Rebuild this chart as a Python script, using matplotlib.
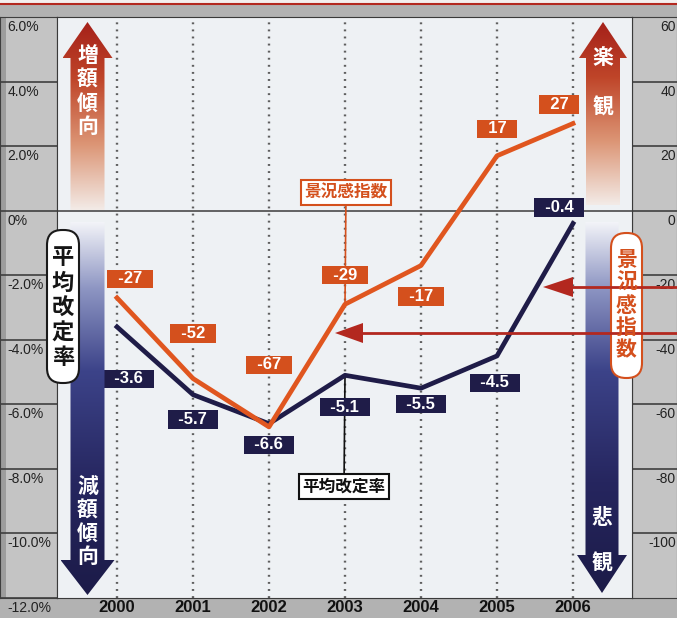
import numpy as np
import matplotlib
matplotlib.use('Agg')
import matplotlib.pyplot as plt
from matplotlib.patches import Polygon, Rectangle, FancyBboxPatch
from matplotlib.colors import LinearSegmentedColormap

plt.rcParams['font.family'] = ['Liberation Sans', 'Noto Sans CJK JP', 'DejaVu Sans']
JP = ['Noto Sans CJK JP', 'DejaVu Sans']

# data
years = [2000, 2001, 2002, 2003, 2004, 2005, 2006]
rate = [-3.6, -5.7, -6.6, -5.1, -5.5, -4.5, -0.4]      # 平均改定率 (%), left axis
di = [-27, -52, -67, -29, -17, 17, 27]                  # 景況感指数, right axis
left_ticks = [6, 4, 2, 0, -2, -4, -6, -8, -10, -12]
left_labels = ['6.0%', '4.0%', '2.0%', '0%', '-2.0%', '-4.0%', '-6.0%', '-8.0%', '-10.0%', '-12.0%']
right_ticks = [60, 40, 20, 0, -20, -40, -60, -80, -100]
right_labels = ['60', '40', '20', '0', '-20', '-40', '-60', '-80', '-100']

# label offsets in pixels (dx, dy)
di_off = [(13, 19), (0, 45), (0, 62), (0, 29), (0, -31), (0, 27), (-14, 19)]
rate_off = [(12, -52), (0, -25), (0, -21), (0, -32), (0, -16), (-2, -27), (-14, 16)]

ORANGE = '#e0561f'
ORANGE_BOX = '#d4501d'
NAVY = '#1f1c48'
RED = '#b3281f'
PANEL = '#c4c4c4'

W, H = 677, 618


def box(x0, y0, x1, y1):
    return [x0 / W, 1 - y1 / H, (x1 - x0) / W, (y1 - y0) / H]


fig = plt.figure(figsize=(W / 100, H / 100), dpi=100)
fig.patch.set_facecolor('#b2b2b2')

# left scale panel
ax_l = fig.add_axes(box(0, 17, 57, 598))
ax_l.set_facecolor(PANEL)
ax_l.set_xlim(0, 1)
ax_l.set_ylim(-12, 6)
ax_l.axvspan(0, 0.11, color='#9d9d9d', lw=0)
for v, lab in zip(left_ticks, left_labels):
    ax_l.axhline(v, color='#3f3f3f', lw=1.2)
    ax_l.text(0.13, v - 0.31, lab, ha='left', va='center', fontsize=10, color='#222', clip_on=False)
ax_l.set_xticks([])
ax_l.set_yticks([])
for s in ax_l.spines.values():
    s.set_color('#3f3f3f')

# right scale panel (labels sit at the right edge)
ax_r = fig.add_axes(box(632, 17, 677, 598))
ax_r.set_facecolor(PANEL)
ax_r.set_xlim(0, 1)
ax_r.set_ylim(-120, 60)
for v, lab in zip(right_ticks, right_labels):
    ax_r.axhline(v, color='#3f3f3f', lw=1.2)
    ax_r.text(0.97, v - 3.1, lab, ha='right', va='center', fontsize=10, color='#222', clip_on=False)
ax_r.set_xticks([])
ax_r.set_yticks([])
for s in ax_r.spines.values():
    s.set_color('#3f3f3f')

# main chart
ax = fig.add_axes(box(57, 17, 632, 598))
ax.set_facecolor('#eef1f4')
ax.set_xlim(2000 - 60 / 76, 2006 + 59 / 76)
ax.set_ylim(-12, 6)
ax.vlines(years, -12, 6, colors='#5f5f5f', linestyles=(0, (0.8, 2.2)), lw=1.7)
ax.axhline(0, color='#4a4a4a', lw=1.2)
ax.plot(years, rate, color=NAVY, lw=3.4, zorder=3)
ax.set_xticks(years)
ax.set_xticklabels([str(y) for y in years], fontsize=12, fontweight='bold', color='#111')
ax.tick_params(axis='x', length=0, pad=1.5)
ax.set_yticks([])
for s in ax.spines.values():
    s.set_color('#3a3a3a')

ax2 = ax.twinx()
ax2.set_ylim(-120, 60)
ax2.set_yticks([])
for s in ax2.spines.values():
    s.set_visible(False)
ax2.plot(years, di, color=ORANGE, lw=3.4, zorder=3)

# value labels
for yr, v, (dx, dy) in zip(years, di, di_off):
    ax2.annotate(f'  {v}  ', xy=(yr, v), xytext=(dx, dy), textcoords='offset pixels',
                 ha='center', va='center', fontsize=12, fontweight='bold', color='white', zorder=6,
                 bbox=dict(boxstyle='square,pad=0.1', fc=ORANGE_BOX, ec='none'))
for yr, v, (dx, dy) in zip(years, rate, rate_off):
    ax.annotate(f'  {v}  ', xy=(yr, v), xytext=(dx, dy), textcoords='offset pixels',
                ha='center', va='center', fontsize=12, fontweight='bold', color='white', zorder=6,
                bbox=dict(boxstyle='square,pad=0.1', fc=NAVY, ec='none'))

# series name callouts at 2003
ax2.annotate('景況感指数', xy=(2003, di[3]), xytext=(1, 112), textcoords='offset pixels',
             ha='center', va='center', fontsize=12, fontweight='bold', color=ORANGE_BOX, family=JP,
             zorder=2.5,
             bbox=dict(boxstyle='square,pad=0.2', fc='white', ec=ORANGE_BOX, lw=1.5),
             arrowprops=dict(arrowstyle='-', color=ORANGE_BOX, lw=1.2, shrinkA=0, shrinkB=0))
ax.annotate('平均改定率', xy=(2003, rate[3]), xytext=(-1, -111), textcoords='offset pixels',
            ha='center', va='center', fontsize=12, fontweight='bold', color='#111', family=JP,
            zorder=2.5,
            bbox=dict(boxstyle='square,pad=0.2', fc='white', ec='#111', lw=1.5),
            arrowprops=dict(arrowstyle='-', color='#111', lw=1.2, shrinkA=0, shrinkB=0))

# overlay for decorations, pixel coordinates
ov = fig.add_axes([0, 0, 1, 1], zorder=10)
ov.axis('off')

ov.add_patch(Rectangle((-5, -10), W + 10, 14, fc='#f4efee', ec=RED, lw=1.5))

up_cmap = LinearSegmentedColormap.from_list(
    'up', [(0, '#a5211a'), (0.3, '#bf4529'), (0.65, '#dc9575'), (1, '#f3ebe7')])
down_cmap = LinearSegmentedColormap.from_list(
    'down', [(0, '#f2f3f8'), (0.18, '#8c94c2'), (0.4, '#3c4389'), (0.7, '#26265f'), (1, '#1c1b48')])


def grad_arrow(cx, y_top, y_bot, up, cmap, sh=17, hh=26, hl=36):
    if up:
        pts = [(cx, y_top), (cx + hh, y_top + hl), (cx + sh, y_top + hl), (cx + sh, y_bot),
               (cx - sh, y_bot), (cx - sh, y_top + hl), (cx - hh, y_top + hl)]
    else:
        pts = [(cx, y_bot), (cx + hh, y_bot - hl), (cx + sh, y_bot - hl), (cx + sh, y_top),
               (cx - sh, y_top), (cx - sh, y_bot - hl), (cx - hh, y_bot - hl)]
    poly = Polygon(pts, closed=True, fc='none', ec='none')
    ov.add_patch(poly)
    grad = np.linspace(0, 1, 256)[:, None]
    im = ov.imshow(grad, cmap=cmap, extent=[cx - hh, cx + hh, y_bot, y_top],
                   aspect='auto', interpolation='bilinear')
    im.set_clip_path(poly)


def vtext(x, ys, chars, **kw):
    for y, c in zip(ys, chars):
        ov.text(x, y, c, ha='center', va='center', family=JP, fontweight='bold', **kw)


grad_arrow(87.5, 22, 210, True, up_cmap, hh=25)
grad_arrow(87.5, 222, 595, False, down_cmap, hh=27, hl=35)
grad_arrow(603, 22, 205, True, up_cmap, hh=24)
grad_arrow(602, 222, 593, False, down_cmap, sh=16.5, hh=25, hl=38)

vtext(87.5, [56, 79, 103, 126], '増額傾向', fontsize=15, color='white')
vtext(87.5, [486, 510, 533, 556], '減額傾向', fontsize=15, color='white')
vtext(603, [58, 107], '楽観', fontsize=15, color='white')
vtext(602, [518, 563], '悲観', fontsize=15, color='white')

ov.add_patch(FancyBboxPatch((47, 230), 32, 153, boxstyle='round,pad=0,rounding_size=15',
                            fc='white', ec='#1a1a1a', lw=1.5))
vtext(63, [258, 283, 308, 333, 358], '平均改定率', fontsize=16, color='#151515')

ov.add_patch(FancyBboxPatch((611, 233), 31, 145, boxstyle='round,pad=0,rounding_size=15',
                            fc='white', ec=ORANGE_BOX, lw=1.5))
vtext(626.5, [260, 282.5, 305, 327.5, 350], '景況感指数', fontsize=15, color=ORANGE_BOX)

# red pointer arrows from the right
for y, tip, base in [(287, 543, 573), (333, 335, 363)]:
    ov.plot([base - 2, W + 5], [y, y], color=RED, lw=2)
    ov.add_patch(Polygon([(tip, y), (base, y - 10), (base, y + 10)], closed=True, fc=RED, ec='none'))

ov.set_xlim(0, W)
ov.set_ylim(H, 0)

fig.savefig('out.png', dpi=100, facecolor=fig.get_facecolor())
